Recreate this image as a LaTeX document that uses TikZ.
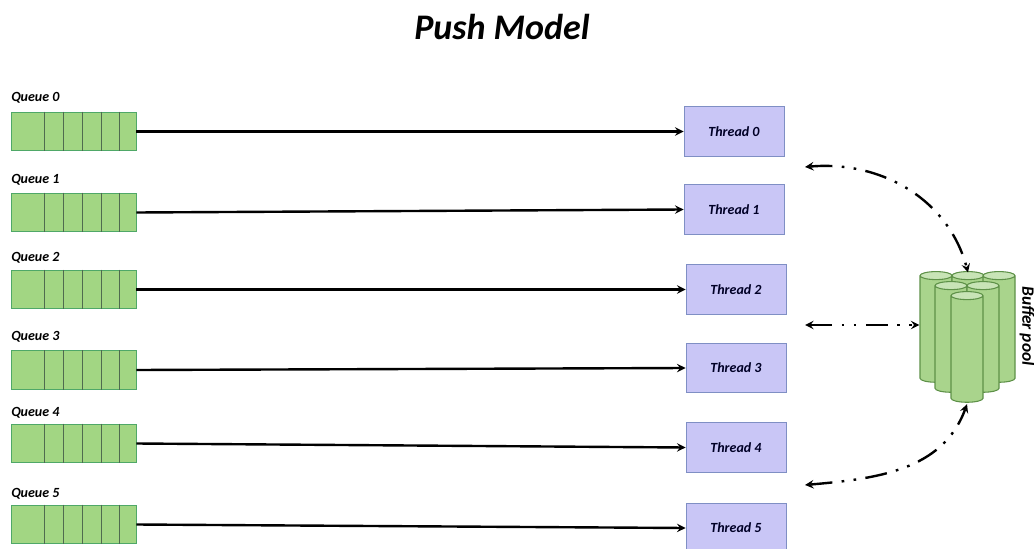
\documentclass[tikz,border=0pt]{standalone}
\usepackage{fontspec}
\setmainfont{Carlito}
\usetikzlibrary{shapes.geometric}
\definecolor{queuefill}{HTML}{A2D683}
\definecolor{queueedge}{HTML}{4FA868}
\definecolor{queuecell}{HTML}{4F6B4F}
\definecolor{threadfill}{HTML}{C9C6F6}
\definecolor{threadedge}{HTML}{7F8FC4}
\definecolor{drumfill}{HTML}{A9D48C}
\definecolor{drumtop}{HTML}{C8E4B6}
\definecolor{drumedge}{HTML}{5E9148}
\begin{document}
\begin{tikzpicture}[
		x=0.75pt,y=-0.75pt,
		>=stealth,
		queue/.style={draw=queueedge,fill=queuefill,line width=.7pt,minimum width=93.75pt,minimum height=29pt,inner sep=0pt},
		thread/.style={draw=threadedge,fill=threadfill,line width=.7pt,minimum width=75pt,minimum height=37pt,inner sep=0pt,font=\bfseries\itshape\fontsize{10.5}{12}\selectfont,text=black!85!blue},
		label/.style={font=\bfseries\itshape\fontsize{10.5}{12}\selectfont,inner sep=0pt,anchor=west},
		drum/.style={shape=cylinder,shape border rotate=90,draw=drumedge,line width=.8pt,aspect=3,
			cylinder uses custom fill,cylinder body fill=drumfill,cylinder end fill=drumtop,
			minimum width=24pt,minimum height=83pt,inner sep=1pt},
		flow/.style={->,line width=1.8pt},
		share/.style={<->,line width=1.8pt,dash pattern=on 16.5pt off 7pt on 2pt off 7pt on 2pt off 7pt},
	]
	\useasboundingbox (0,0) rectangle (1034,549);
	\node[inner sep=0pt,font=\bfseries\itshape\fontsize{27}{30}\selectfont] (title) at (502,27) {Push Model};
	% queues on the left, threads next to the buffer pool
	\foreach \n/\qy/\ly/\tx/\ty in {0/131.5/98/734/131.5,1/212.5/180/734/209.5,2/289.5/258/736/289.5,3/370/337/736/368,4/443.5/413/736/447.5,5/524.5/494/736/528}{
		\node[queue] (queue\n) at (73.5,\qy) {};
		\foreach \d in {34,53,72,91,109}{
			\draw[queuecell,line width=.7pt] ([xshift=\d*0.75pt]queue\n.north west) -- ([xshift=\d*0.75pt]queue\n.south west);
		}
		\node[label] (qlabel\n) at (11,\ly) {Queue \n};
		\node[thread] (thread\n) at (\tx,\ty) {Thread \n};
		\draw[flow] (queue\n.east) -- (thread\n.west);
	}
	% buffer pool, back row first
	\node[drum] (drum0) at (936,330) {};
	\node[drum] (drum1) at (968,330) {};
	\node[drum] (drum2) at (999,330) {};
	\node[drum] (drum3) at (951,340) {};
	\node[drum] (drum4) at (983,340) {};
	\node[drum] (drum5) at (967,350) {};
	\node[inner sep=0pt,rotate=-90,font=\bfseries\itshape\fontsize{13}{15}\selectfont] (pool) at (1027,326) {Buffer pool};
	% free ends of the connections
	\coordinate (upper) at (805,167);
	\coordinate (middle) at (805,325);
	\coordinate (lower) at (805,485);
	\draw[share] (upper) to[out=5,in=105] ([yshift=-1pt]drum1.north);
	\draw[share] (middle) -- (drum0.west |- middle);
	\draw[share] (lower) to[out=5,in=-110] ([yshift=-1pt]drum5.south);
\end{tikzpicture}
\end{document}
